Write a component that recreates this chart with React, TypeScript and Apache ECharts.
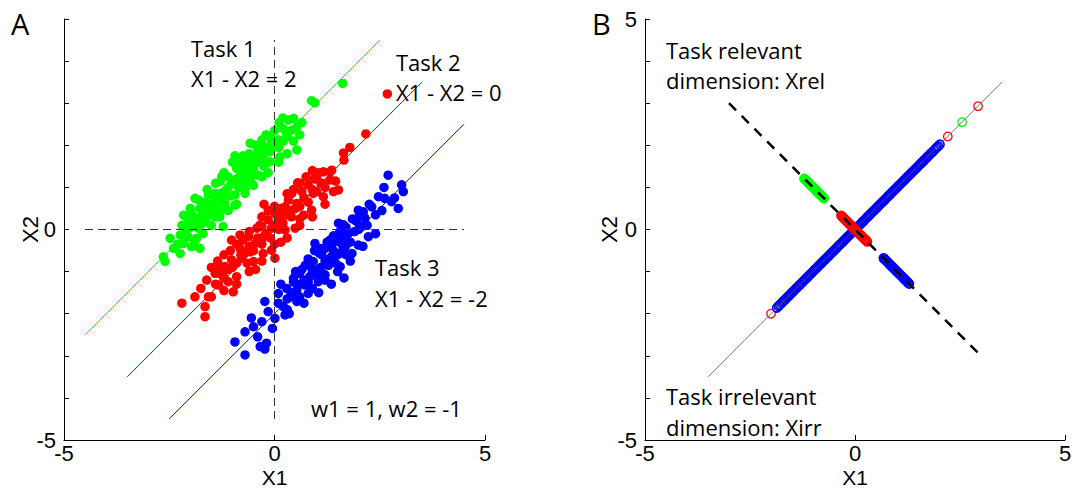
import React, { useEffect, useRef } from "react";
import * as echarts from "echarts";

// ---- Panel A data: (X1, X2) samples per task ----
const greenPts: number[][] = [
  [1.62, 3.47], [0.88, 3.06], [0.96, 3.01], [0.11, 2.54], [0.33, 2.6], [0.45, 2.64], [0.65, 2.54], [0.53, 2.44],
  [0.41, 2.36], [0.29, 2.28], [0.21, 2.1], [0.09, 2.13], [-0.07, 2.09], [-0.3, 2.13], [-0.46, 2.01], [-0.58, 2.05],
  [0.53, 1.89], [0.13, 1.73], [-0.15, 1.93], [-0.22, 1.81], [-0.38, 1.85], [-0.5, 1.73], [-0.94, 1.75], [-0.62, 1.61],
  [-0.46, 1.57], [-0.3, 1.65], [-0.11, 1.61], [-0.78, 1.45], [-0.9, 1.45], [-0.58, 1.41], [-0.38, 1.29], [-0.7, 1.26],
  [-0.86, 1.22], [-1.25, 1.26], [-1.29, 1.14], [-1.02, 1.1], [-0.78, 1.06], [-1.14, 0.94], [-0.94, 0.82], [-0.7, 0.86],
  [-1.41, 0.86], [-1.57, 0.82], [-1.89, 0.74], [-1.33, 0.7], [-1.18, 0.62], [-0.94, 0.58], [-1.65, 0.58], [-1.77, 0.5],
  [-1.49, 0.46], [-1.29, 0.42], [-2.16, 0.34], [-1.97, 0.38], [-1.85, 0.27], [-2.05, 0.19], [-1.65, 0.23], [-1.41, 0.3],
  [-1.22, 0.07], [-1.81, 0.03], [-2.09, -0.01], [-2.24, -0.13], [-2.48, -0.21], [-2.05, -0.17], [-1.85, -0.21], [-2.16, -0.33],
  [-1.97, -0.41], [-1.77, -0.45], [-2.24, -0.57], [-2.64, -0.65], [-2.6, -0.76],
  [-1.6, 0.45], [-1.5, 0.6], [-1.4, 0.7], [-1.3, 0.85], [-1.2, 0.9], [-1.1, 1.0], [-1.0, 1.15], [-0.9, 1.2],
  [-0.8, 1.3], [-0.7, 1.35], [-0.6, 1.5], [-0.5, 1.45], [-0.4, 1.6], [-0.3, 1.75], [-0.2, 1.95], [-0.1, 1.85],
  [0.0, 2.0], [-1.9, 0.1], [-1.75, 0.3], [-2.0, 0.05], [-1.7, 0.15], [-1.55, 0.35], [-1.35, 0.55], [-1.05, 0.8],
  [-0.85, 1.0], [-0.65, 1.15], [-0.45, 1.3], [-0.25, 1.5], [0.1, 1.95], [0.3, 2.2], [0.2, 2.4],
  [-1.0, 1.6], [-1.2, 1.35], [-0.8, 1.6], [-1.4, 1.1], [-1.6, 0.95], [-1.8, 0.7], [-2.0, 0.5], [-2.2, 0.1],
  [-0.6, 1.8], [-0.4, 1.95], [-0.2, 2.25], [0.0, 2.35], [0.2, 2.65], [-0.7, 0.95], [-0.5, 1.05], [-0.3, 1.25],
  [-0.9, 0.6], [-1.1, 0.45], [-1.3, 0.3], [-1.5, 0.1], [-1.7, -0.1], [-1.9, -0.3], [0.1, 1.6], [0.3, 1.8],
  [-0.15, 1.35], [-1.1, 1.25], [-1.25, 0.75], [-0.75, 1.75], [-0.55, 1.25], [-1.45, 0.55], [-1.65, 0.65], [-2.3, -0.35],
  [-2.4, -0.45], [0.45, 2.1], [0.6, 2.25], [-0.1, 2.2],
];

const redPts: number[][] = [
  [2.68, 3.22], [2.17, 2.27], [1.79, 1.95], [1.64, 1.82], [1.65, 1.65], [1.36, 1.41], [1.16, 1.37], [1.0, 1.25],
  [1.52, 0.94], [1.32, 1.18], [1.04, 1.35], [1.32, 1.37], [0.55, 1.11], [0.8, 1.06], [1.12, 1.1], [0.65, 0.9],
  [0.41, 0.86], [0.92, 0.86], [1.16, 0.78], [0.88, 0.46], [0.69, 0.34], [0.25, 0.54], [0.01, 0.38], [0.53, 0.62],
  [0.33, 0.7], [-0.15, 0.23], [0.09, 0.19], [0.49, 0.03], [0.25, -0.01], [-0.07, 0.03], [-0.42, 0.03], [-0.23, -0.13],
  [-0.62, -0.17], [-0.82, -0.13], [-1.02, -0.25], [-0.46, -0.33], [-0.07, -0.49], [0.01, -0.68], [-0.27, -0.57], [-0.58, -0.53],
  [-0.82, -0.45], [-0.78, -0.68], [-0.5, -0.76], [-1.02, -0.72], [-1.18, -0.88], [-1.41, -1.04], [-1.25, -1.08], [-0.9, -1.12],
  [-1.1, -1.24], [-1.61, -1.2], [-1.33, -1.32], [-0.98, -1.48], [-1.89, -1.6], [-1.57, -1.6], [-1.65, -1.83], [-2.2, -1.75],
  [-1.65, -2.07], [-0.31, -0.25], [-0.54, -0.41], [0.17, 0.3], [0.41, 0.46], [-0.3, 0.07],
  [-1.4, -1.3], [-1.2, -1.15], [-1.1, -0.95], [-1.0, -0.9], [-0.9, -0.8], [-0.8, -0.6], [-0.7, -0.55], [-0.6, -0.4],
  [-0.5, -0.5], [-0.4, -0.2], [-0.3, -0.35], [-0.2, -0.1], [-0.1, -0.2], [0.0, 0.1], [0.1, 0.0], [0.2, 0.15],
  [0.3, 0.35], [0.4, 0.3], [0.5, 0.5], [0.6, 0.55], [0.7, 0.75], [0.8, 0.65], [0.9, 0.95], [1.0, 0.9],
  [1.1, 1.1], [1.2, 1.0], [-0.35, 0.1], [0.15, 0.5], [0.6, 0.25], [-0.65, -0.8], [-1.3, -0.9], [0.95, 1.2],
  [-1.5, -0.9], [-1.2, -0.6], [-0.9, -0.35], [-0.6, -0.05], [-0.3, 0.3], [0.0, 0.55], [0.3, 0.85], [0.6, 1.1],
  [0.9, 1.4], [-1.5, -1.6], [-1.2, -1.45], [-0.9, -1.3], [-0.6, -1.0], [-0.3, -0.75], [0.0, -0.35], [0.3, -0.2],
  [0.6, 0.1], [0.9, 0.3], [1.2, 0.6], [1.4, 0.9], [-1.75, -1.4], [-0.15, 0.45], [0.45, 0.95], [0.75, 1.25],
  [-1.05, -0.5], [-0.75, -0.25], [0.15, -0.3], [-0.45, -0.95], [1.45, 1.15], [-1.35, -0.75], [-0.25, 0.6],
];

const bluePts: number[][] = [
  [2.7, 1.29], [3.06, 0.9], [3.02, 1.06], [2.94, 0.5], [2.78, 0.66], [2.62, 0.74], [2.47, 0.78], [2.31, 0.54],
  [2.11, 0.42], [1.99, 0.46], [2.15, 0.27], [1.95, 0.19], [2.23, -0.17], [1.99, -0.37], [1.84, -0.57], [2.07, 0.07],
  [1.64, 0.11], [1.52, 0.15], [1.75, -0.09], [1.56, -0.17], [1.44, -0.29], [1.68, -0.41], [1.32, -0.25], [1.2, -0.45],
  [0.96, -0.33], [1.12, -0.6], [1.36, -0.64], [1.56, -0.88], [0.92, -0.76], [0.73, -0.85], [1.0, -0.96], [1.2, -1.08],
  [0.84, -1.12], [0.6, -1.04], [0.45, -1.16], [0.73, -1.32], [0.53, -1.44], [0.29, -1.4], [0.09, -1.52], [0.37, -1.6],
  [0.09, -1.75], [-0.23, -1.71], [-0.15, -1.95], [-0.3, -2.19], [0.01, -2.11], [-0.5, -2.31], [-0.7, -2.43], [-0.94, -2.67],
  [-0.34, -2.78], [-0.19, -2.7], [-0.7, -2.98], [0.25, -2.03], [0.21, -1.83], [0.53, -1.71], [0.8, -1.52], [1.04, -1.24],
  [1.6, -0.53], [1.28, -0.85], [-0.23, -2.84],
  [0.3, -1.65], [0.4, -1.5], [0.5, -1.55], [0.6, -1.3], [0.7, -1.2], [0.8, -1.25], [0.9, -1.0], [1.0, -1.1],
  [1.1, -0.9], [1.2, -0.75], [1.3, -0.7], [1.4, -0.5], [1.5, -0.6], [1.6, -0.35], [1.7, -0.25], [1.8, -0.3],
  [1.9, -0.05], [2.0, 0.0], [2.2, 0.1], [2.4, 0.35], [0.85, -0.85], [1.15, -1.05], [1.45, -0.8], [1.7, -0.6],
  [0.65, -0.95], [1.35, -0.4], [0.45, -1.25], [1.05, -0.55],
  [0.5, -1.0], [0.8, -0.7], [1.1, -0.45], [1.4, -0.15], [1.7, 0.05], [2.0, 0.3], [0.3, -1.9], [0.6, -1.6],
  [0.9, -1.4], [1.2, -1.2], [1.5, -1.0], [1.8, -0.75], [2.1, -0.4], [2.4, -0.1], [0.15, -1.3], [0.95, -0.5],
  [1.25, -0.3], [1.55, -0.05], [1.85, 0.25], [2.25, 0.6], [0.7, -1.75], [1.05, -1.5], [1.35, -1.3], [1.65, -1.15],
  [0.35, -2.0], [-0.05, -2.35], [-0.4, -2.55], [-0.55, -2.1], [2.55, 0.45], [2.85, 0.75], [2.6, 1.0],
];

// Task boundary lines in panel A (X2 = X1 + c), endpoints in data units
const greenLine = [[-4.5, -2.5], [2.5, 4.5]];
const redLine = [[-3.5, -3.5], [3.5, 3.5]];
const blueLine = [[-2.5, -4.5], [4.5, 2.5]];
const vZero = [[0, -4.5], [0, 4.5]];
const hZero = [[-4.5, 0], [4.5, 0]];

// ---- Panel B data: positions along the irrelevant (diagonal) and relevant (anti-diagonal) axes ----
const diagGreen = [-1.78, -1.62, -1.5, -1.41, -1.2, -1.05, -0.9, -0.6, -0.3, 0.1, 0.5, 0.9, 1.15, 1.38, 1.6, 1.75, 2.55];
const diagRed = [-2.0, -1.82, -1.6, -1.45, -1.35, -1.1, -0.7, -0.2, 0.3, 0.8, 1.3, 1.66, 1.83, 2.21, 2.93];
const diagBlue = [
  -1.86, -1.82, -1.79, -1.75, -1.71, -1.68, -1.66, -1.62, -1.58, -1.55, -1.52, -1.49, -1.47, -1.43, -1.4, -1.36,
  -1.33, -1.31, -1.29, -1.25, -1.22, -1.18, -1.15, -1.12, -1.1, -1.07, -1.04, -1.0, -0.97, -0.95, -0.93, -0.89,
  -0.86, -0.83, -0.8, -0.78, -0.76, -0.73, -0.7, -0.66, -0.63, -0.6, -0.58, -0.55, -0.52, -0.5, -0.47, -0.44,
  -0.41, -0.38, -0.36, -0.33, -0.3, -0.27, -0.24, -0.22, -0.2, -0.17, -0.14, -0.11, -0.08, -0.05, -0.03, 0.0,
  0.02, 0.05, 0.07, 0.1, 0.13, 0.16, 0.18, 0.2, 0.23, 0.26, 0.29, 0.31, 0.34, 0.37, 0.4, 0.43, 0.45, 0.48,
  0.51, 0.54, 0.56, 0.59, 0.62, 0.65, 0.67, 0.7, 0.73, 0.76, 0.79, 0.81, 0.84, 0.87, 0.9, 0.93, 0.95, 0.98,
  1.01, 1.04, 1.06, 1.09, 1.12, 1.15, 1.18, 1.2, 1.23, 1.26, 1.29, 1.32, 1.35, 1.37, 1.4, 1.43, 1.46, 1.49,
  1.52, 1.55, 1.57, 1.6, 1.63, 1.66, 1.7, 1.73, 1.76, 1.8, 1.84, 1.88, 1.92, 1.95, 1.98, 2.02,
];
const antiGreen = [
  -1.21, -1.19, -1.16, -1.14, -1.12, -1.1, -1.08, -1.05, -1.03, -1.01, -0.99, -0.97, -0.95, -0.93, -0.91, -0.88,
  -0.86, -0.84, -0.82, -0.8, -0.78, -0.76, -0.74,
];
const antiRed = [
  -0.33, -0.31, -0.29, -0.27, -0.25, -0.23, -0.2, -0.18, -0.16, -0.14, -0.12, -0.1, -0.08, -0.06, -0.04, -0.02,
  0.0, 0.02, 0.04, 0.06, 0.08, 0.1, 0.12, 0.14, 0.16, 0.18, 0.21, 0.23, 0.25, 0.27, 0.29,
];
const antiBlue = [
  0.68, 0.7, 0.72, 0.74, 0.76, 0.79, 0.81, 0.83, 0.85, 0.87, 0.89, 0.91, 0.93, 0.95, 0.97, 0.99,
  1.01, 1.03, 1.05, 1.07, 1.09, 1.12, 1.14, 1.16, 1.18, 1.2, 1.22, 1.24, 1.27, 1.29,
];
const bDiagLine = [[-3.5, -3.5], [3.5, 3.5]];
const bAntiLine = [[-3, 3], [3, -3]];

const FONT = "'Open Sans', 'Noto Sans', sans-serif";
const AXFONT = "'Liberation Sans', Arial, sans-serif";
const GREEN = "#00ff00";
const RED = "#ff0000";
const BLUE = "#0000ff";

function App() {
  const ref = useRef<HTMLDivElement>(null);
  useEffect(() => {
    if (!ref.current) return;
    const chart = echarts.init(ref.current, null, { renderer: "svg" });

    const makeX = (gi: number) => ({
      gridIndex: gi,
      type: "value",
      min: -5,
      max: 5,
      interval: 5,
      axisLine: { show: true, onZero: false, lineStyle: { color: "#000", width: 1 } },
      axisTick: { show: true, inside: true, length: 5, lineStyle: { color: "#000" } },
      splitLine: { show: false },
      axisLabel: { fontSize: 22, color: "#000", margin: 2, fontFamily: AXFONT, lineHeight: 22 },
    });
    const makeY = (gi: number, shown: number[]) => ({
      gridIndex: gi,
      type: "value",
      min: -5,
      max: 5,
      interval: 1,
      axisLine: { show: true, onZero: false, lineStyle: { color: "#000", width: 1 } },
      axisTick: { show: true, inside: true, length: 5, lineStyle: { color: "#000" } },
      splitLine: { show: false },
      axisLabel: {
        fontSize: 22,
        color: "#000",
        margin: 8,
        fontFamily: AXFONT,
        lineHeight: 22,
        formatter: (v: number) => (shown.indexOf(v) >= 0 ? String(v) : ""),
      },
    });

    const lineSeries = (data: number[][], gi: number, color: string, width: number, type: any, z: number) => ({
      type: "line",
      xAxisIndex: gi,
      yAxisIndex: gi,
      data,
      color,
      symbol: "none",
      silent: true,
      z,
      itemStyle: { color },
      lineStyle: { color, width, type, opacity: 1 },
    });
    const dotSeries = (data: number[][], color: string) => ({
      type: "scatter",
      xAxisIndex: 0,
      yAxisIndex: 0,
      data,
      symbol: "circle",
      symbolSize: 9.5,
      z: 3,
      itemStyle: { color, opacity: 1 },
    });
    const ringSeries = (data: number[][], color: string, z: number, bw: number) => ({
      type: "scatter",
      xAxisIndex: 1,
      yAxisIndex: 1,
      data,
      symbol: "circle",
      symbolSize: 8.5,
      z,
      itemStyle: { color: "rgba(0,0,0,0)", borderColor: color, borderWidth: bw, opacity: 1 },
    });

    const diag = (arr: number[]) => arr.map((t) => [t, t]);
    const anti = (arr: number[]) => arr.map((s) => [s, -s]);

    const txt = (text: string, x: number, y: number, size = 22, align = "left", rotation = 0, family = FONT) => ({
      type: "text",
      x,
      y,
      rotation,
      silent: true,
      z: 100,
      style: {
        text,
        fill: "#000",
        fontSize: size,
        fontFamily: family,
        textAlign: align,
        align,
        textVerticalAlign: "middle",
        verticalAlign: "middle",
      },
    });

    chart.setOption({
      animation: false,
      backgroundColor: "#fff",
      grid: [
        { left: 64, top: 19, width: 421, height: 421, outerBoundsMode: "none", containLabel: false },
        { left: 645, top: 19, width: 420, height: 421, outerBoundsMode: "none", containLabel: false },
      ],
      xAxis: [makeX(0), makeX(1)],
      yAxis: [makeY(0, [0, -5]), makeY(1, [5, 0, -5])],
      series: [
        lineSeries(greenLine, 0, GREEN, 1, "solid", 2),
        lineSeries(redLine, 0, RED, 1, "solid", 2),
        lineSeries(blueLine, 0, BLUE, 1, "solid", 2),
        dotSeries(greenPts, GREEN),
        dotSeries(redPts, RED),
        dotSeries(bluePts, BLUE),
        lineSeries(vZero, 0, "#333", 1, [8, 5], 5),
        lineSeries(hZero, 0, "#333", 1, [8, 5], 5),

        ringSeries(diag(diagGreen), GREEN, 3, 1.3),
        ringSeries(diag(diagRed), RED, 3, 1.3),
        ringSeries(diag(diagBlue), BLUE, 3, 1.6),
        ringSeries(anti(antiGreen), GREEN, 3, 1.7),
        ringSeries(anti(antiRed), RED, 3, 1.7),
        ringSeries(anti(antiBlue), BLUE, 3, 1.7),
        lineSeries(bDiagLine, 1, "#555", 0.8, "solid", 6),
        lineSeries(bAntiLine, 1, "#000", 2.5, [10, 8], 6),
      ],
      graphic: [
        txt("A", 11, 23, 29),
        txt("B", 592, 23, 29),
        txt("X1", 274.5, 477, 21, "center", 0, AXFONT),
        txt("X1", 855, 477, 21, "center", 0, AXFONT),
        txt("X2", 30, 229.5, 22, "center", Math.PI / 2, AXFONT),
        txt("X2", 609, 229.5, 22, "center", Math.PI / 2, AXFONT),
        txt("Task 1", 191, 48),
        txt("X1 - X2 = 2", 191, 78),
        txt("Task 2", 396, 62),
        txt("X1 - X2 = 0", 396, 92),
        txt("Task 3", 375, 267),
        txt("X1 - X2 = -2", 375, 298),
        txt("w1 = 1, w2 = -1", 311, 408),
        txt("Task relevant", 666, 50),
        txt("dimension: Xrel", 666, 80),
        txt("Task irrelevant", 666, 396),
        txt("dimension: Xirr", 666, 427),
      ],
    });
    return () => chart.dispose();
  }, []);
  return (
    <div
      ref={ref}
      style={{ position: "fixed", left: 0, top: 0, width: 1080, height: 489, background: "#fff" }}
    />
  );
}

export default App;
